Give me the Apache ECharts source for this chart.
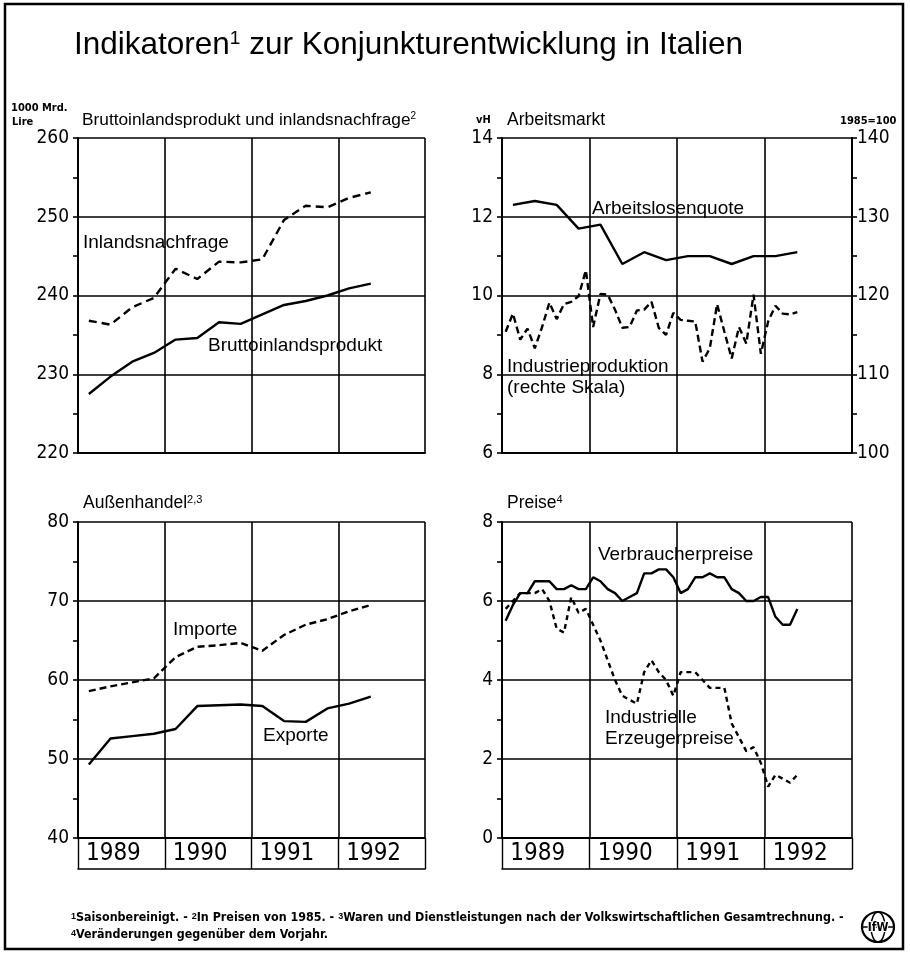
<!DOCTYPE html>
<html>
<head>
<meta charset="utf-8">
<script src="https://cdn.jsdelivr.net/npm/echarts@6/dist/echarts.min.js"></script>
<style>
html,body{margin:0;padding:0;background:#fff;}
#chart{width:910px;height:959px;}
</style>
</head>
<body>
<div id="chart"></div>
<script>
// ---- data ----
const yearLabels = ['1989', '1990', '1991', '1992'];
// quarterly, Q1 1989 .. Q2 1992, 1000 Mrd. Lire
const bruttoinlandsprodukt = [227.5, 229.7, 231.6, 232.7, 234.4, 234.6, 236.6, 236.4, 237.6, 238.8, 239.3, 240.0, 240.9, 241.5];
const inlandsnachfrage = [236.8, 236.3, 238.5, 239.7, 243.4, 242.1, 244.3, 244.2, 244.6, 249.6, 251.4, 251.2, 252.4, 253.1];
// quarterly, vH
const arbeitslosenquote = [12.3, 12.4, 12.3, 11.7, 11.8, 10.8, 11.1, 10.9, 11.0, 11.0, 10.8, 11.0, 11.0, 11.1];
// monthly, Jan 1989 .. May 1992, 1985=100
const industrieproduktion = [115.4, 117.7, 114.4, 115.8, 113.3, 116.0, 119.1, 117.0, 118.9, 119.2, 119.9, 123.2,
  116.0, 120.2, 120.1, 118.2, 115.9, 116.0, 118.1, 118.2, 119.2, 115.9, 115.0, 117.8,
  116.9, 116.8, 116.7, 111.6, 113.3, 118.9, 115.4, 112.0, 116.0, 113.9, 120.1, 112.6,
  116.7, 118.7, 117.7, 117.6, 117.9];
// quarterly, 1000 Mrd. Lire
const importe = [58.6, 59.2, 59.7, 60.2, 62.9, 64.2, 64.4, 64.7, 63.7, 65.7, 67.0, 67.7, 68.7, 69.5];
const exporte = [49.3, 52.6, 52.9, 53.2, 53.8, 56.7, 56.8, 56.9, 56.7, 54.8, 54.7, 56.4, 57.0, 57.9];
// monthly, change vs previous year in %
const verbraucherpreise = [5.5, 5.9, 6.2, 6.2, 6.5, 6.5, 6.5, 6.3, 6.3, 6.4, 6.3, 6.3,
  6.6, 6.5, 6.3, 6.2, 6.0, 6.1, 6.2, 6.7, 6.7, 6.8, 6.8, 6.6,
  6.2, 6.3, 6.6, 6.6, 6.7, 6.6, 6.6, 6.3, 6.2, 6.0, 6.0, 6.1,
  6.1, 5.6, 5.4, 5.4, 5.8];
const erzeugerpreise = [5.8, 6.0, 6.2, 6.2, 6.2, 6.3, 6.0, 5.3, 5.2, 6.1, 5.7, 5.8,
  5.4, 5.0, 4.5, 4.0, 3.6, 3.5, 3.4, 4.2, 4.5, 4.2, 4.0, 3.6,
  4.2, 4.2, 4.2, 4.0, 3.8, 3.8, 3.8, 2.9, 2.55, 2.2, 2.3, 1.9,
  1.3, 1.6, 1.5, 1.4, 1.6];

// ---- helpers ----
const START = 1989;
const quarterly = arr => arr.map((v, i) => [START + (i + 0.5) / 4, v]);
const monthly = arr => arr.map((v, i) => [START + (i + 0.5) / 12, v]);

const FONT = '"Liberation Sans", Arial, sans-serif';
const NARROW = '"DejaVu Sans Condensed", "Liberation Sans Narrow", sans-serif';
const BLACK = '#000';

const grids = [
  {left: 78, top: 138, width: 347, height: 315},
  {left: 502, top: 138, width: 350, height: 315},
  {left: 78, top: 522, width: 347, height: 316},
  {left: 502, top: 522, width: 350, height: 316}
].map(g => Object.assign({outerBoundsMode: 'none', containLabel: false}, g));

function timeAxis(gridIndex) {
  return {
    type: 'value', gridIndex, min: 1989, max: 1993, interval: 1,
    axisLine: {show: true, onZero: false, lineStyle: {color: BLACK, width: 2}},
    axisTick: {show: false}, axisLabel: {show: false},
    splitLine: {show: true, lineStyle: {color: BLACK, width: 1.6}}
  };
}
function yearAxis(gridIndex) {
  return {
    type: 'category', gridIndex, data: yearLabels, position: 'bottom', offset: 31,
    boundaryGap: true,
    axisLine: {show: true, onZero: false, lineStyle: {color: BLACK, width: 1.6}},
    axisTick: {show: true, inside: true, length: 31, interval: 0, lineStyle: {color: BLACK, width: 1.4}},
    axisLabel: {show: true, inside: true, interval: 0, margin: 3, fontFamily: NARROW, fontSize: 24,
      color: BLACK, padding: [0, 16, 0, 0]},
    splitLine: {show: false}
  };
}
function valueAxis(gridIndex, min, max, interval, position, withSplit) {
  return {
    type: 'value', gridIndex, min, max, interval, position,
    axisLine: {show: true, onZero: false, lineStyle: {color: BLACK, width: 2}},
    axisTick: {show: true, inside: false, length: 5, lineStyle: {color: BLACK, width: 1.6}},
    minorTick: {show: true, splitNumber: 2, length: 5, lineStyle: {color: BLACK, width: 1.6}},
    axisLabel: {show: true, margin: position === 'right' ? 5 : 9, fontFamily: NARROW, fontSize: 19, color: BLACK},
    splitLine: {show: withSplit, lineStyle: {color: BLACK, width: 1.6}}
  };
}
function line(name, data, xi, yi, dashed) {
  return {
    name, type: 'line', xAxisIndex: xi, yAxisIndex: yi, data,
    symbol: 'none', smooth: false, silent: true, z: 5,
    lineStyle: {color: BLACK, width: 2.4, type: dashed ? dashed : 'solid'}
  };
}

const sup = {fontSize: 12, fontFamily: FONT, verticalAlign: 'top', fill: BLACK};
function label(text, x, y, size, family, weight, supRatio) {
  const s = size || 19;
  return {
    type: 'text', x, y, silent: true, z: 10,
    style: {text, fontSize: s, fontFamily: family || FONT, fontWeight: weight || 'normal',
      fill: BLACK, verticalAlign: 'middle', align: 'left',
      rich: {s: Object.assign({}, sup, {fontSize: Math.round(s * (supRatio || 0.6)), fontWeight: weight || 'normal'})}}
  };
}

const option = {
  backgroundColor: '#fff',
  animation: false,
  grid: grids,
  xAxis: [timeAxis(0), timeAxis(1), timeAxis(2), timeAxis(3), yearAxis(2), yearAxis(3)],
  yAxis: [
    valueAxis(0, 220, 260, 10, 'left', true),
    valueAxis(1, 6, 14, 2, 'left', true),
    valueAxis(1, 100, 140, 10, 'right', false),
    valueAxis(2, 40, 80, 10, 'left', true),
    valueAxis(3, 0, 8, 2, 'left', true)
  ],
  series: [
    line('Bruttoinlandsprodukt', quarterly(bruttoinlandsprodukt), 0, 0),
    line('Inlandsnachfrage', quarterly(inlandsnachfrage), 0, 0, [8, 5]),
    line('Arbeitslosenquote', quarterly(arbeitslosenquote), 1, 1),
    line('Industrieproduktion', monthly(industrieproduktion), 1, 2, [7, 4]),
    line('Exporte', quarterly(exporte), 2, 3),
    line('Importe', quarterly(importe), 2, 3, [7, 4]),
    line('Verbraucherpreise', monthly(verbraucherpreise), 3, 4),
    line('Industrielle Erzeugerpreise', monthly(erzeugerpreise), 3, 4, [5, 4])
  ],
  graphic: [
    {type: 'rect', shape: {x: 5, y: 4, width: 898, height: 945}, silent: true, z: 1,
      style: {fill: 'none', stroke: BLACK, lineWidth: 2.5}},
    label('Indikatoren{s|1} zur Konjunkturentwicklung in Italien', 74, 45, 31.5, FONT),
    label('1000 Mrd.', 11, 108, 11, NARROW, 'bold'),
    label('Lire', 12, 122, 11, NARROW, 'bold'),
    label('Bruttoinlandsprodukt und inlandsnachfrage{s|2}', 82, 120, 17.3, FONT),
    label('vH', 476, 120, 11, NARROW, 'bold'),
    label('Arbeitsmarkt', 507, 120, 17.5, FONT),
    label('1985=100', 840, 121, 11, NARROW, 'bold'),
    label('Außenhandel{s|2,3}', 83, 503, 17.5, FONT),
    label('Preise{s|4}', 507, 503, 17.5, FONT),
    label('Inlandsnachfrage', 83, 243),
    label('Bruttoinlandsprodukt', 208, 346),
    label('Arbeitslosenquote', 592, 209),
    label('Industrieproduktion', 507, 367),
    label('(rechte Skala)', 507, 388),
    label('Importe', 173, 630),
    label('Exporte', 263, 736),
    label('Verbraucherpreise', 598, 555),
    label('Industrielle', 605, 718),
    label('Erzeugerpreise', 605, 739),
    label('{s|1}Saisonbereinigt. - {s|2}In Preisen von 1985. - {s|3}Waren und Dienstleistungen nach der Volkswirtschaftlichen Gesamtrechnung. -', 71, 918, 12.4, NARROW, 'bold', 0.75),
    label('{s|4}Veränderungen gegenüber dem Vorjahr.', 71, 935, 12.4, NARROW, 'bold', 0.75),
    {
      type: 'group', x: 878, y: 927, silent: true, z: 10,
      children: [
        {type: 'ellipse', shape: {cx: 0, cy: 0, rx: 16, ry: 15}, style: {fill: '#fff', stroke: BLACK, lineWidth: 2.2}},
        {type: 'line', shape: {x1: -16, y1: 0, x2: 16, y2: 0}, style: {stroke: BLACK, lineWidth: 1.5}},
        {type: 'ellipse', shape: {cx: 0, cy: 0, rx: 7, ry: 15}, style: {fill: 'none', stroke: BLACK, lineWidth: 1.5}},
        {type: 'text', x: 0, y: 1, style: {text: 'IfW', fontSize: 12, fontWeight: 'bold', fontFamily: NARROW,
          fill: BLACK, align: 'center', verticalAlign: 'middle', stroke: '#fff', lineWidth: 2}}
      ]
    }
  ]
};

const chart = echarts.init(document.getElementById('chart'), null, {renderer: 'canvas', width: 910, height: 959});
chart.setOption(option);
</script>
</body>
</html>
